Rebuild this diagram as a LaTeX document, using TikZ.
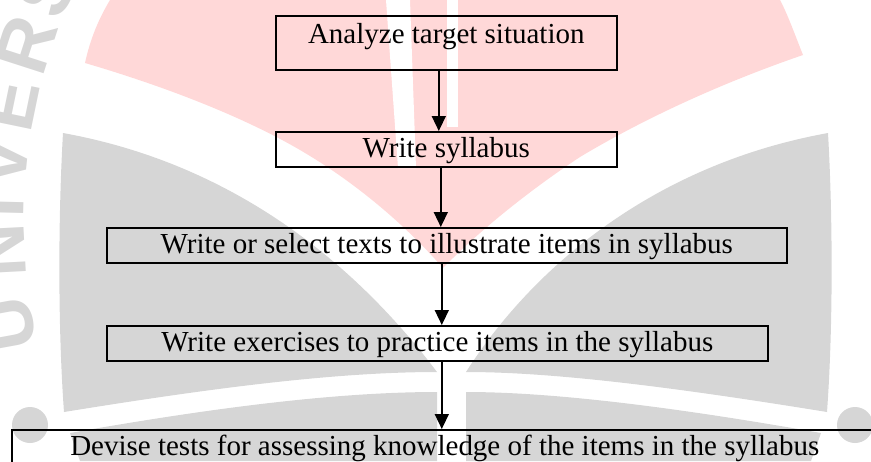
\documentclass[tikz,border=0pt]{standalone}
\usepackage{fontspec}
\setmainfont{Liberation Serif}
\newfontfamily\markfont{Liberation Sans}
\usetikzlibrary{arrows.meta}

\definecolor{markgray}{RGB}{214,214,214}
\definecolor{markpink}{RGB}{255,216,216}

\tikzset{
  stepbox/.style={draw, line width=1.6pt, anchor=north west,
    inner xsep=0pt, inner ysep=0pt, text height=26pt, text depth=9pt,
    font=\fontsize{29}{34}\selectfont},
  flow/.style={-{Triangle[width=14pt,length=15pt]}, line width=1.5pt},
  markletter/.style={text=markgray, anchor=base, inner sep=0pt,
    font=\markfont\fontsize{75}{75}\selectfont\bfseries},
}

\begin{document}
\begin{tikzpicture}[x=1pt, y=-1pt]
  \useasboundingbox (0,0) rectangle (871,461);
  \clip (0,0) rectangle (871,461);

  % Watermark: flame
  \fill[markpink] (110,0) .. controls (98,20) and (90,40) .. (85,63)
    .. controls (160,85) and (240,115) .. (300,150)
    .. controls (360,185) and (410,230) .. (443,268)
    .. controls (480,230) and (530,190) .. (580,157)
    .. controls (650,115) and (730,80) .. (803,55)
    .. controls (795,35) and (788,15) .. (780,0) -- cycle;
  \fill[white] (386,0) -- (410,0) -- (416,168) -- (398,168) -- cycle;
  \fill[white] (447,0) rectangle (458,127);

  % Watermark: leaves and lower bands
  \fill[markgray] (63,133) .. controls (240,165) and (360,270) .. (437,372)
    .. controls (330,372) and (200,390) .. (64,412)
    .. controls (58,330) and (58,220) .. (63,133) -- cycle;
  \fill[markgray] (828,133) .. controls (651,165) and (531,270) .. (466,372)
    .. controls (561,372) and (691,390) .. (827,412)
    .. controls (833,330) and (833,220) .. (828,133) -- cycle;
  \fill[markgray] (437,392) .. controls (330,392) and (200,410) .. (70,433)
    -- (80,461) -- (437,461) -- cycle;
  \fill[markgray] (466,392) .. controls (561,392) and (691,410) .. (821,433)
    -- (811,461) -- (466,461) -- cycle;
  \fill[markgray] (30,425) circle[radius=18];
  \fill[markgray] (855,425) circle[radius=18];

  % Watermark: lettering round the edge
  \foreach \ang/\chr in {190.4/U, 183.0/N, 178.6/I, 174.1/V, 168.3/E,
                         162.1/R, 156.2/S}
    \node[markletter, rotate=\ang-90] (mark\chr)
      at ({572+548*cos(\ang)}, {221-548*sin(\ang)}) {\chr};

  % Steps
  \node[stepbox, minimum width=341pt, text height=28pt, text depth=26pt]
    (analyze) at (275,15) {Analyze target situation};
  \node[stepbox, minimum width=341pt] (syllabus) at (275,131)
    {Write syllabus};
  \node[stepbox, minimum width=680pt] (texts) at (106,227)
    {Write or select texts to illustrate items in syllabus};
  \node[stepbox, minimum width=661pt] (exercises) at (106,325)
    {Write exercises to practice items in the syllabus};
  \node[stepbox, minimum width=866pt] (tests) at (11,429)
    {Devise tests for assessing knowledge of the items in the syllabus};

  % Arrows between steps
  \draw[flow] ([xshift=-7.5pt]analyze.south)
    -- ([xshift=-7.5pt]analyze.south |- syllabus.north);
  \draw[flow] ([xshift=-5.5pt]syllabus.south)
    -- ([xshift=-5.5pt]syllabus.south |- texts.north);
  \draw[flow] ([xshift=-5pt]texts.south)
    -- ([xshift=-5pt]texts.south |- exercises.north);
  \draw[flow] ([xshift=4.5pt]exercises.south)
    -- ([xshift=4.5pt]exercises.south |- tests.north);
\end{tikzpicture}
\end{document}
